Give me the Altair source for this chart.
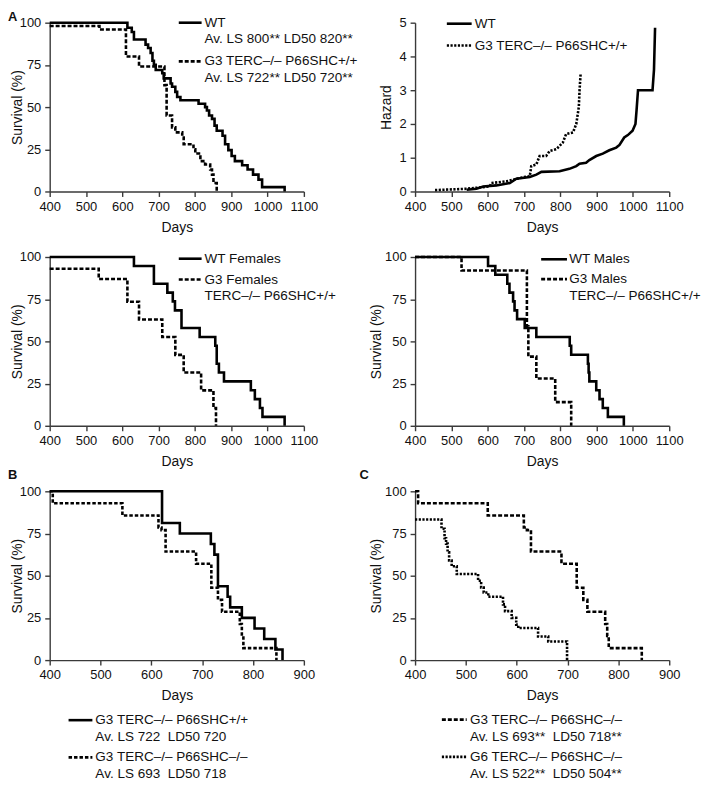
import altair as alt
import pandas as pd

FONT = "Liberation Sans"
INK = "#111111"

# ---------------- data ----------------
# Panel A, top-left: Kaplan-Meier survival (%), all mice
a_wt_days = [400, 614, 626, 632, 664, 671, 678, 683, 687, 692, 710, 714, 733, 737, 746, 751, 760, 810,
             828, 833, 839, 847, 854, 860, 876, 883, 892, 901, 910, 930, 945, 960, 975, 985, 1047]
a_wt_surv = [100, 97, 94.5, 90, 87, 85, 82, 77.5, 75, 72, 70, 67, 64, 62, 59, 56, 54, 52,
             50, 48, 45, 43, 39, 36, 33, 28, 24.5, 21, 18, 15.5, 13, 10, 7, 2.6, 0]
a_g3_days = [400, 537, 610, 646, 716, 722, 737, 746, 765, 769, 796, 801, 815, 828, 842, 847, 851, 860]
a_g3_surv = [98, 96, 80, 74, 63, 45, 38, 35, 32, 28, 25, 22.5, 18, 16, 13, 10, 5, 0]

# Panel A, top-right: cumulative hazard
h_wt_days = [542, 569, 588, 624, 661, 679, 716, 734, 748, 798, 825, 844, 853, 871, 880, 899, 917, 935,
             954, 963, 976, 986, 999, 1007, 1010, 1014, 1054, 1058, 1061]
h_wt_vals = [0.05, 0.08, 0.15, 0.18, 0.25, 0.38, 0.43, 0.5, 0.58, 0.6, 0.67, 0.75, 0.82, 0.85, 0.93, 1.05,
             1.12, 1.22, 1.3, 1.38, 1.6, 1.67, 1.8, 2.0, 2.4, 3.0, 3.0, 3.6, 4.85]
h_g3_days = [455, 542, 606, 610, 652, 697, 716, 720, 734, 743, 761, 771, 789, 807, 816, 835, 844, 851, 853, 856]
h_g3_vals = [0.04, 0.08, 0.15, 0.25, 0.3, 0.42, 0.45, 0.75, 0.8, 1.05, 1.05, 1.2, 1.25, 1.45, 1.7, 1.75,
             2.0, 2.5, 3.0, 3.5]

# Panel A, middle-left: females
f_wt_days = [400, 632, 687, 724, 739, 745, 763, 813, 856, 860, 866, 880, 954, 965, 979, 986, 1047]
f_wt_surv = [100, 94.7, 84.2, 78.9, 73.7, 68.4, 57.9, 52.6, 47.4, 36.8, 31.6, 26.3, 21.1, 15.8, 10.5, 5.3, 0]
f_g3_days = [400, 535, 614, 646, 710, 746, 769, 817, 851, 858]
f_g3_surv = [93, 87, 73.5, 63, 52.6, 42, 31.6, 21, 10.5, 0]

# Panel A, middle-right: males
m_wt_days = [400, 601, 621, 654, 660, 670, 674, 681, 702, 734, 826, 830, 876, 878, 880, 899, 908, 917, 931, 975]
m_wt_surv = [100, 94.7, 89.5, 84.2, 78.9, 73.7, 68.4, 63.2, 57.9, 52.6, 47.4, 42.1, 36.8, 31.6, 26.3,
             21.1, 15.8, 10.5, 5.3, 0]
m_g3_days = [400, 528, 708, 712, 734, 786, 830]
m_g3_surv = [100, 92, 59, 41, 28, 14, 0]

# Panels B and C
g3_p66wt_days = [400, 621, 656, 717, 724, 731, 750, 755, 778, 803, 822, 844, 858]
g3_p66wt_surv = [100, 81.25, 75, 68.75, 62.5, 43.75, 37.5, 31.25, 25, 18.75, 12.5, 6.25, 0]
g3_p66ko_days = [400, 406, 543, 614, 620, 628, 688, 718, 731, 739, 774, 778, 781, 846]
g3_p66ko_surv = [100, 92.9, 85.7, 78.6, 77, 64.3, 57.1, 42.9, 35.7, 28.6, 21.4, 14.3, 7.1, 0]
g6_p66ko_days = [400, 452, 458, 461, 464, 467, 472, 482, 524, 530, 535, 544, 573, 577, 590, 599, 603, 642, 662, 699]
g6_p66ko_surv = [83.3, 77.8, 72.2, 69, 63.9, 59, 55.6, 51, 47, 43, 40, 37.5, 33, 29, 25, 21, 19, 14, 11, 0]

# ticks
x_ticks_a = [400, 500, 600, 700, 800, 900, 1000, 1100]
x_ticks_bc = [400, 500, 600, 700, 800, 900]
surv_ticks = [0, 25, 50, 75, 100]
hazard_ticks = [0, 1, 2, 3, 4, 5]

# legend texts
lab_a1 = ["WT", "Av. LS 800** LD50 820**", "G3 TERC–/– P66SHC+/+", "Av. LS 722** LD50 720**"]
lab_a2 = ["WT", "G3 TERC–/– P66SHC+/+"]
lab_a3 = ["WT Females", "G3 Females", "TERC–/– P66SHC+/+"]
lab_a4 = ["WT Males", "G3 Males", "TERC–/– P66SHC+/+"]
lab_b = ["G3 TERC–/– P66SHC+/+", "Av. LS 722\u00a0 LD50 720", "G3 TERC–/– P66SHC–/–", "Av. LS 693\u00a0 LD50 718"]
lab_c = ["G3 TERC–/– P66SHC–/–", "Av. LS 693**\u00a0 LD50 718**", "G6 TERC–/– P66SHC–/–", "Av. LS 522**\u00a0 LD50 504**"]

# ---------------- styling helpers ----------------
W, H = 256, 170
LW = 2.6
DASH = [4, 2]
DASH_B = [3.5, 2]
DOT = [2.2, 1.5]
FS = 13.6
TX_LEFT = -25
TX_RIGHT = -32


def x_enc(ticks):
    return alt.X("day:Q",
                 scale=alt.Scale(domain=[ticks[0], ticks[-1]], nice=False, zero=False),
                 axis=alt.Axis(values=ticks, title="Days", format="d", labelFlush=False,
                               labelOverlap=False, tickSize=5, labelPadding=4, titlePadding=7,
                               grid=False))


def y_enc(ticks, title, title_x):
    return alt.Y("val:Q",
                 scale=alt.Scale(domain=[ticks[0], ticks[-1]], nice=False, zero=False),
                 axis=alt.Axis(values=ticks, title=title, format="d", tickSize=5, labelPadding=4,
                               titleX=title_x, grid=False, labelOverlap=False))


def curve(days, vals, xt, yt, ytitle, title_x, dash=None, interp="step-after"):
    kw = dict(color="black", strokeWidth=LW, interpolate=interp)
    if dash is not None:
        kw["strokeDash"] = dash
    return alt.Chart(pd.DataFrame({"day": days, "val": vals})).mark_line(**kw).encode(
        x=x_enc(xt), y=y_enc(yt, ytitle, title_x))


def txt(s, x, y, size=FS, weight="normal", baseline="middle"):
    return alt.Chart(pd.DataFrame({"t": [s]})).mark_text(
        align="left", baseline=baseline, font=FONT, fontSize=size, fontWeight=weight, color=INK
    ).encode(text="t:N", x=alt.value(x), y=alt.value(y))


def swatch(x1, x2, y, dash=None):
    kw = dict(color="black", strokeWidth=LW)
    if dash is not None:
        kw["strokeDash"] = dash
    return alt.Chart(pd.DataFrame({"k": [0]})).mark_rule(**kw).encode(
        x=alt.value(x1), x2=alt.value(x2), y=alt.value(y))


S = "Survival (%)"

pA1 = alt.layer(
    curve(a_wt_days, a_wt_surv, x_ticks_a, surv_ticks, S, TX_LEFT),
    curve(a_g3_days, a_g3_surv, x_ticks_a, surv_ticks, S, TX_LEFT, dash=DASH),
    swatch(130, 153, 0), txt(lab_a1[0], 156, 0), txt(lab_a1[1], 156, 16.5),
    swatch(130, 153, 39, DASH), txt(lab_a1[2], 156, 39), txt(lab_a1[3], 156, 55.5),
    txt("A", -42, -12, 13, "bold", "top"),
).properties(width=W, height=H)

pA2 = alt.layer(
    curve(h_wt_days, h_wt_vals, x_ticks_a, hazard_ticks, "Hazard", -22, interp="linear"),
    curve(h_g3_days, h_g3_vals, x_ticks_a, hazard_ticks, "Hazard", -22, dash=DOT, interp="linear"),
    swatch(32, 57, 1), txt(lab_a2[0], 60, 1),
    swatch(32, 57, 23, DOT), txt(lab_a2[1], 60, 23),
).properties(width=W, height=H)

pA3 = alt.layer(
    curve(f_wt_days, f_wt_surv, x_ticks_a, surv_ticks, S, TX_LEFT),
    curve(f_g3_days, f_g3_surv, x_ticks_a, surv_ticks, S, TX_LEFT, dash=DASH),
    swatch(130, 153, 1.7), txt(lab_a3[0], 156, 1.7),
    swatch(130, 153, 22.7, DASH), txt(lab_a3[1], 156, 22.7), txt(lab_a3[2], 156, 39.3),
).properties(width=W, height=H)

pA4 = alt.layer(
    curve(m_wt_days, m_wt_surv, x_ticks_a, surv_ticks, S, TX_RIGHT),
    curve(m_g3_days, m_g3_surv, x_ticks_a, surv_ticks, S, TX_RIGHT, dash=DASH),
    swatch(127, 153, 2.3), txt(lab_a4[0], 155.3, 2.3),
    swatch(127, 153, 22.3, DASH), txt(lab_a4[1], 155.3, 22.3), txt(lab_a4[2], 155.3, 39.3),
).properties(width=W, height=H)

pB = alt.layer(
    curve(g3_p66wt_days, g3_p66wt_surv, x_ticks_bc, surv_ticks, S, TX_LEFT),
    curve(g3_p66ko_days, g3_p66ko_surv, x_ticks_bc, surv_ticks, S, TX_LEFT, dash=DASH_B),
    swatch(19, 43, 230.5), txt(lab_b[0], 46, 230.5), txt(lab_b[1], 46, 247.5),
    swatch(19, 43, 268, DASH_B), txt(lab_b[2], 46, 268), txt(lab_b[3], 46, 285),
    txt("B", -42, -22, 13, "bold", "top"),
).properties(width=W, height=H)

pC = alt.layer(
    curve(g3_p66ko_days, g3_p66ko_surv, x_ticks_bc, surv_ticks, S, TX_RIGHT, dash=DASH),
    curve(g6_p66ko_days, g6_p66ko_surv, x_ticks_bc, surv_ticks, S, TX_RIGHT, dash=DOT),
    swatch(27, 52, 230, DASH), txt(lab_c[0], 55.3, 230), txt(lab_c[1], 55.3, 247),
    swatch(27, 52, 267.5, DOT), txt(lab_c[2], 55.3, 267.5), txt(lab_c[3], 55.3, 285),
    txt("C", -56, -22, 13, "bold", "top"),
).properties(width=W, height=H)

chart = alt.concat(
    pA1, pA2, pA3, pA4, pB, pC,
    columns=2, spacing={"row": 66, "column": 112}, bounds="flush",
).properties(padding=0).configure_axis(
    domainColor="#3a3a3a", domainWidth=1.4, tickColor="#3a3a3a", tickWidth=1.4,
    labelFont=FONT, labelFontSize=13, labelColor=INK,
    titleFont=FONT, titleFontSize=14, titleFontWeight="normal", titleColor=INK,
).configure_view(stroke=None)

chart.save("out.html", embed_options={"renderer": "svg", "actions": False})
